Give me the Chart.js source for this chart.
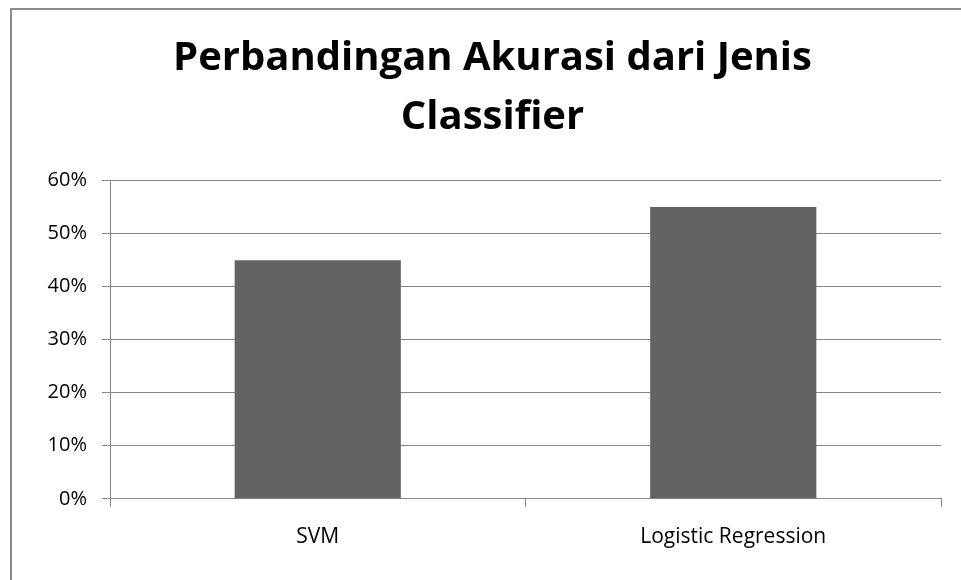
<!DOCTYPE html>
<html>
<head>
<meta charset="utf-8">
<script src="https://cdn.jsdelivr.net/npm/chart.js@4.4.1/dist/chart.umd.min.js"></script>
<style>
  html, body { margin: 0; padding: 0; background: #fff; }
  #wrap { position: relative; width: 961px; height: 580px; overflow: hidden; }
  #frame { position: absolute; left: 10px; top: 8px; width: 2000px; height: 2000px;
           border-left: 2px solid #8c8c8c; border-top: 2px solid #8c8c8c; box-sizing: border-box; }
  canvas { position: absolute; left: 0; top: 0; }
</style>
</head>
<body>
<div id="wrap">
  <div id="frame"></div>
  <canvas id="c" width="961" height="580"></canvas>
</div>
<script>
const titleLines = ["Perbandingan Akurasi dari Jenis", "Classifier"];
const categories = ["SVM", "Logistic Regression"];
const accuracy = [45, 55];
const yTicks = [0, 10, 20, 30, 40, 50, 60];

const gridColor = '#878787';
const font = "'Open Sans', 'Noto Sans', sans-serif";

new Chart(document.getElementById('c'), {
  type: 'bar',
  data: {
    labels: categories,
    datasets: [{
      data: accuracy,
      backgroundColor: '#636363',
      borderWidth: 0,
      categoryPercentage: 1.0,
      barPercentage: 0.4
    }]
  },
  options: {
    responsive: false,
    animation: false,
    devicePixelRatio: 1,
    layout: { padding: { left: 44, right: 20, top: 0, bottom: 12 } },
    plugins: {
      legend: { display: false },
      tooltip: { enabled: false },
      title: {
        display: true,
        text: titleLines,
        color: '#000',
        font: { family: font, size: 40, weight: 'bold', lineHeight: 1.47 },
        padding: { top: 29, bottom: 34 }
      }
    },
    scales: {
      x: {
        grid: { display: true, drawOnChartArea: false, offset: true, color: gridColor, tickLength: 8, lineWidth: 1 },
        border: { display: true, color: gridColor, width: 1 },
        ticks: { color: '#000', font: { family: font, size: 21 }, padding: 18, maxRotation: 0 }
      },
      y: {
        min: 0, max: 60,
        afterBuildTicks: (axis) => { axis.ticks = yTicks.map(v => ({ value: v })); },
        afterFit: (axis) => { axis.width = 66; },
        grid: { color: gridColor, tickLength: 8, lineWidth: 1 },
        border: { display: true, color: gridColor, width: 1 },
        ticks: { color: '#000', font: { family: font, size: 20 }, padding: 15,
                 callback: (v) => v + '%' }
      }
    }
  }
});
</script>
</body>
</html>
